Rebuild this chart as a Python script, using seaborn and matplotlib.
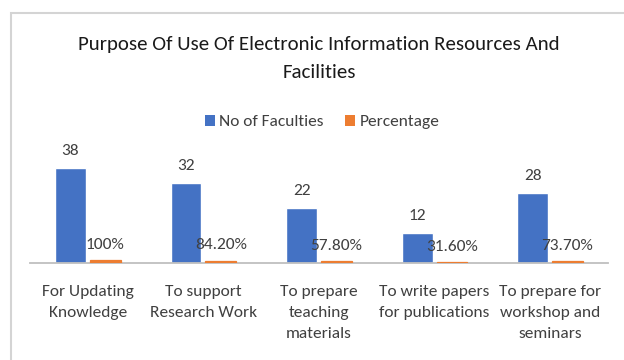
import matplotlib
matplotlib.use("Agg")
import matplotlib.pyplot as plt
from matplotlib import font_manager
from matplotlib.patches import Rectangle, Patch
import pandas as pd
import seaborn as sns

# Chart data
categories = [
    "For Updating\nKnowledge",
    "To support\nResearch Work",
    "To prepare\nteaching\nmaterials",
    "To write papers\nfor publications",
    "To prepare for\nworkshop and\nseminars",
]
faculties = [38, 32, 22, 12, 28]
percentage = [1.00, 0.842, 0.578, 0.316, 0.737]
series_names = ["No of Faculties", "Percentage"]
title = "Purpose Of Use Of Electronic Information Resources And\nFacilities"

df = pd.DataFrame({
    "category": categories * 2,
    "series": [series_names[0]] * len(categories) + [series_names[1]] * len(categories),
    "value": faculties + percentage,
})

sns.set_theme(style="white")
available = {f.name for f in font_manager.fontManager.ttflist}
family = next(n for n in ["Carlito", "Open Sans", "DejaVu Sans"] if n in available)
plt.rcParams["font.family"] = [family, "DejaVu Sans"]

text_color = "#404040"
palette = {series_names[0]: "#4472C4", series_names[1]: "#ED7D31"}

fig = plt.figure(figsize=(6.24, 3.6), dpi=100)
W, H = 624, 360

# outer chart frame
fig.patches.append(Rectangle((11 / W, -0.1), 1.2, 1.1 - 13 / H, transform=fig.transFigure,
                             fill=False, edgecolor="#D4D4D4", linewidth=1.5))

ax = fig.add_axes([30 / W, (H - 262.7) / H, 578 / W, 100 / H])
sns.barplot(data=df, x="category", y="value", hue="series", palette=palette,
            width=0.6, gap=0.11, dodge=True, saturation=1, ax=ax, legend=False)
ax.set_ylim(0, 40)
ax.set_xlim(-0.5, len(categories) - 0.5)
ax.set_xlabel("")
ax.set_ylabel("")
ax.set_yticks([])
for side in ["left", "right", "top"]:
    ax.spines[side].set_visible(False)
ax.spines["bottom"].set_color("#BFBFBF")
ax.spines["bottom"].set_linewidth(1.3)
ax.spines["bottom"].set_zorder(1)
ax.tick_params(axis="x", length=0, pad=16, labelsize=12.5, labelcolor=text_color)
for lbl in ax.get_xticklabels():
    lbl.set_linespacing(1.65)

# thin percentage bars get an outline so they stay visible at this scale
for bar in ax.containers[1]:
    bar.set_edgecolor(palette[series_names[1]])
    bar.set_linewidth(0.9)
    bar.set_zorder(3)

fmt_pct = lambda v: f"{v:.0%}" if v == 1 else f"{v:.2%}"
ax.bar_label(ax.containers[0], labels=[str(v) for v in faculties], padding=7,
             fontsize=12.5, color=text_color)
ax.bar_label(ax.containers[1], labels=[fmt_pct(v) for v in percentage], padding=6,
             fontsize=12.5, color=text_color)

fig.text(319 / W, 1 - 58.5 / H, title, ha="center", va="center", fontsize=15,
         color="#1a1a1a", linespacing=1.75)

handles = [Patch(facecolor=palette[s], edgecolor="none") for s in series_names]
fig.legend(handles, series_names, loc="center", bbox_to_anchor=(322 / W, 1 - 122 / H),
           ncol=2, frameon=False, fontsize=12.5, labelcolor=text_color,
           handlelength=0.6, handleheight=0.6, handletextpad=0.25, columnspacing=1.2)

fig.savefig("out.png", dpi=100, facecolor="white")
